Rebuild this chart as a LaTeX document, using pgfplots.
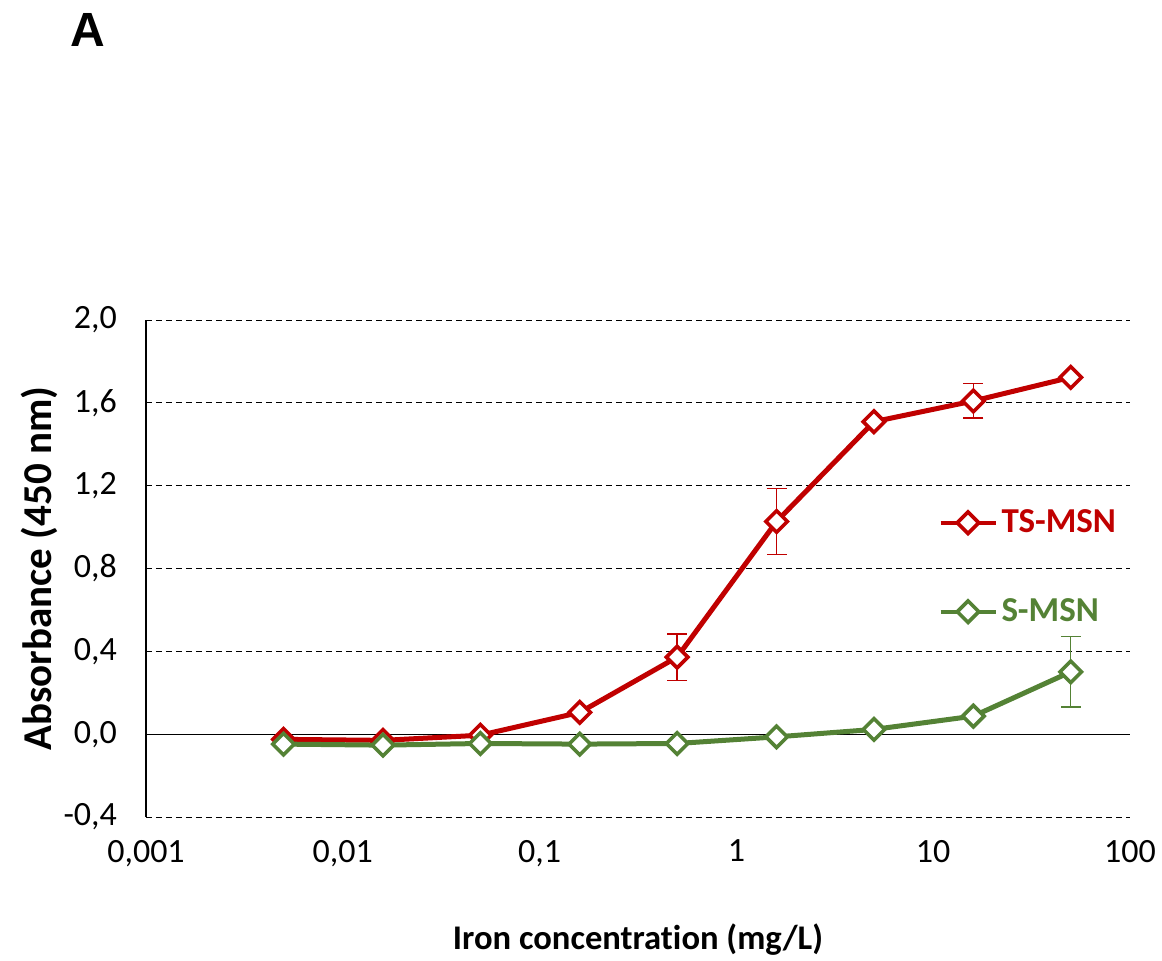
\documentclass[border=0pt]{standalone}
\usepackage{pgfplots}
\pgfplotsset{compat=1.18}
\usepackage{fontspec}
\setmainfont[RawFeature={-liga;-clig;-dlig}]{Carlito}
\newfontfamily\arialfont{Liberation Sans}
\definecolor{tsred}{HTML}{C00000}
\definecolor{sgreen}{HTML}{548235}
\begin{document}
\begin{tikzpicture}
\useasboundingbox (0,0) rectangle (581pt,480pt);
\node[font=\arialfont\bfseries\fontsize{24}{28}\selectfont] at (44pt,465pt) {A};
\begin{axis}[
  at={(73pt,71.5pt)}, anchor=south west,
  scale only axis, width=492pt, height=248.5pt,
  xmode=log, xmin=0.001, xmax=100,
  ymin=-0.4, ymax=2.0,
  axis lines*=left,
  x axis line style={draw=none},
  y axis line style={black, line width=0.6pt},
  xtick={0.001,0.01,0.1,1,10,100},
  xticklabels={{0,001},{0,01},{0,1},1,10,100},
  minor xtick={}, xminorticks=false,
  xtick style={draw=none},
  ytick={-0.4,0,0.4,0.8,1.2,1.6,2.0},
  yticklabels={{-0,4},{0,0},{0,4},{0,8},{1,2},{1,6},{2,0}},
  ytick style={draw=none},
  ymajorgrids,
  major grid style={black, line width=0.5pt, dash pattern=on 3pt off 2pt},
  extra y ticks={0}, extra y tick labels={},
  extra y tick style={grid=major, major grid style={solid, black, line width=0.6pt}},
  ticklabel style={font=\fontsize{17}{20}\selectfont},
  xticklabel style={yshift=-8pt},
  yticklabel style={xshift=-11pt},
  xlabel={\bfseries Iron concentration (mg/L)},
  ylabel={\bfseries Absorbance (450 nm)},
  xlabel style={font=\fontsize{17.3}{20}\selectfont, at={(rel axis cs:0.5,0)}, anchor=center, yshift=-61.5pt},
  ylabel style={font=\fontsize{20.5}{24}\selectfont, at={(rel axis cs:0,0.5)}, anchor=center, yshift=53.5pt},
  legend style={draw=none, fill=none, at={(rel axis cs:0.805,0.627)}, anchor=north west,
     font=\bfseries\fontsize{17.5}{20}\selectfont, row sep=27.5pt, inner sep=0pt,
     /tikz/every even column/.append style={column sep=2pt}},
  legend cell align=left,
  legend image code/.code={\draw[#1, line width=2pt, mark repeat=2, mark phase=2] plot coordinates {(0pt,0pt) (13.75pt,0pt) (27.5pt,0pt)};},
  clip=false,
]
\addplot[tsred, line width=2.5pt, mark=square*, mark size=3.8pt,
  mark options={rotate=45, fill=white, draw=tsred, line width=1.8pt, solid},
  error bars/.cd, y dir=both, y explicit,
  error bar style={tsred, line width=0.7pt},
  error mark options={rotate=90, mark size=5pt, line width=0.7pt, tsred}]
coordinates {
 (0.005,-0.025) +- (0,0)
 (0.016,-0.03) +- (0,0)
 (0.05,-0.005) +- (0,0)
 (0.16,0.105) +- (0,0)
 (0.5,0.372) +- (0,0.112)
 (1.6,1.027) +- (0,0.16)
 (5,1.509) +- (0,0)
 (16,1.609) +- (0,0.083)
 (50,1.723) +- (0,0)
};
\addlegendentry{\textcolor{tsred}{TS-MSN}}
\addplot[sgreen, line width=2.5pt, mark=square*, mark size=3.8pt,
  mark options={rotate=45, fill=white, draw=sgreen, line width=1.8pt, solid},
  error bars/.cd, y dir=both, y explicit,
  error bar style={sgreen, line width=0.7pt},
  error mark options={rotate=90, mark size=5pt, line width=0.7pt, sgreen}]
coordinates {
 (0.005,-0.048) +- (0,0)
 (0.016,-0.053) +- (0,0)
 (0.05,-0.045) +- (0,0)
 (0.16,-0.048) +- (0,0)
 (0.5,-0.045) +- (0,0)
 (1.6,-0.013) +- (0,0)
 (5,0.023) +- (0,0)
 (16,0.087) +- (0,0)
 (50,0.301) +- (0,0.17)
};
\addlegendentry{\textcolor{sgreen}{S-MSN}}
\end{axis}
\end{tikzpicture}
\end{document}
